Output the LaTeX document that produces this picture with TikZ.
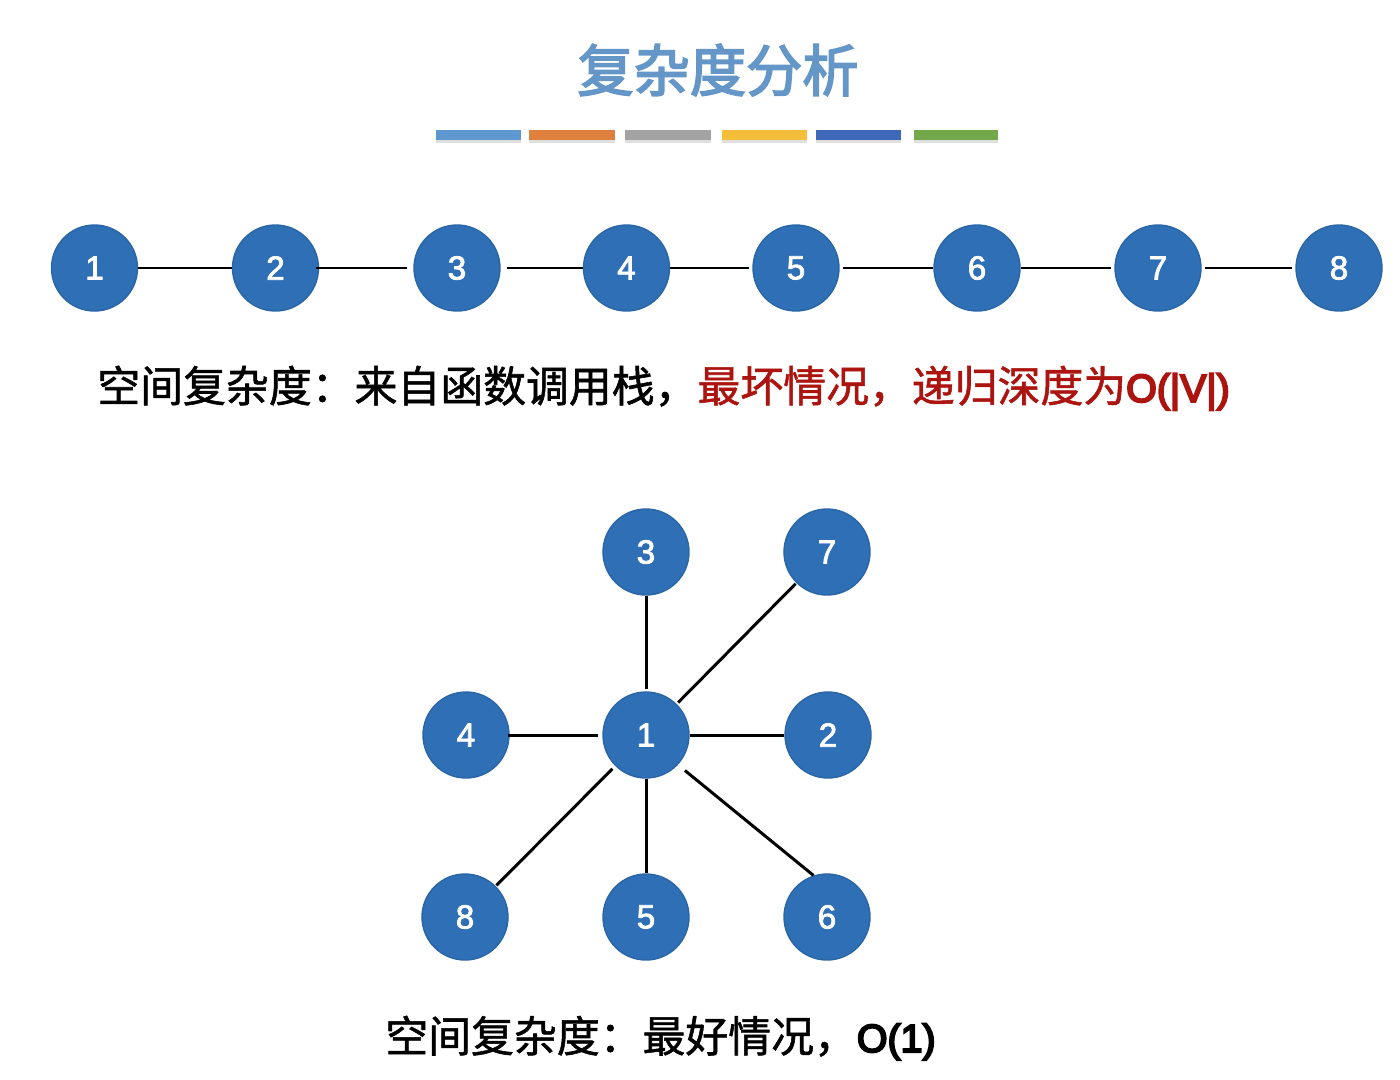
\documentclass[tikz,border=0pt]{standalone}
\usepackage{fontspec}
\setmainfont{Liberation Sans}[FakeBold=2.2]
\newfontfamily\cjk{Noto Sans CJK SC}[FakeBold=1.3]
\newfontfamily\cjktitle{Noto Sans CJK SC}[FakeBold=3]
\newfontfamily\latinheavy{Liberation Sans}[FakeBold=5]
\usetikzlibrary{shadows}
\definecolor{vtxblue}{HTML}{2F6FB5}
\definecolor{vtxedge}{HTML}{2A66A6}
\definecolor{titleblue}{HTML}{6596C8}
\definecolor{wordred}{HTML}{AC1410}
\definecolor{barblue}{HTML}{5F97D0}
\definecolor{barorange}{HTML}{E0803F}
\definecolor{bargray}{HTML}{A3A3A3}
\definecolor{baryellow}{HTML}{F5BE3A}
\definecolor{bardeep}{HTML}{4068B8}
\definecolor{bargreen}{HTML}{73A94A}
\tikzset{
  vtx/.style={circle,fill=vtxblue,draw=vtxedge,thick,text=white,minimum size=1.72cm,inner sep=0pt,font=\fontsize{19}{19}\selectfont},
  caption/.style={anchor=west,inner sep=0pt,font=\fontsize{24.4}{28}\selectfont\cjk},
  bar/.style={minimum width=#1,minimum height=0.2cm,inner sep=0pt,drop shadow={shadow xshift=0pt,shadow yshift=-0.05cm,opacity=0.25}}
}
\newcommand{\bigofont}{\fontsize{22.4}{28}\selectfont\latinheavy}
\begin{document}
\begin{tikzpicture}[x=0.02cm,y=-0.02cm]
      \useasboundingbox (0,0) rectangle (1400,1079);

      \node (title) at (718,70) {\fontsize{32}{36}\selectfont\cjktitle\textcolor{titleblue}{复杂度分析}};

      % colour bars under the title
      \node[bar=1.7cm,fill=barblue] (b1) at (478.5,135) {};
      \node[bar=1.72cm,fill=barorange] (b2) at (572,135) {};
      \node[bar=1.72cm,fill=bargray] (b3) at (668,135) {};
      \node[bar=1.7cm,fill=baryellow] (b4) at (764.5,135) {};
      \node[bar=1.7cm,fill=bardeep] (b5) at (858.5,135) {};
      \node[bar=1.68cm,fill=bargreen] (b6) at (956,135) {};

      \begin{scope}[every node/.style={vtx}]
        \node (s1) at (94.5,268) {1};
        \node (s2) at (275.5,268) {2};
        \node (s3) at (457,268) {3};
        \node (s4) at (626.5,268) {4};
        \node (s5) at (796,268) {5};
        \node (s6) at (977,268) {6};
        \node (s7) at (1158,268) {7};
        \node (s8) at (1339,268) {8};

        \node (t1) at (646,735) {1};
        \node (t2) at (828,735) {2};
        \node (t3) at (646,552) {3};
        \node (t4) at (466,735) {4};
        \node (t5) at (646,917) {5};
        \node (t6) at (827,917) {6};
        \node (t7) at (827,552) {7};
        \node (t8) at (465,917) {8};
      \end{scope}

      \begin{scope}[every edge/.style={draw=black,line width=1.7pt}]
        \path (s1) edge (s2);
        \path (s2) edge[shorten >=0.12cm,shorten <=-0.06cm] (s3);
        \path (s3) edge[shorten <=0.12cm] (s4);
        \path (s4) edge[shorten >=0.06cm] (s5);
        \path (s5) edge[shorten <=0.06cm] (s6);
        \path (s6) edge[shorten >=0.06cm] (s7);
        \path (s7) edge[shorten >=0.06cm,shorten <=0.06cm] (s8);

        \path (t1) edge[shorten <=0.04cm] (t3);
        \path (t1) edge[shorten <=0.04cm,shorten >=0.02cm] (t7);
        \path (t1) edge (t2);
        \path (t1) edge[shorten <=0.08cm,shorten >=-0.04cm] (t4);
        \path (t1) edge[shorten <=0.08cm,shorten >=0.02cm] (t8);
        \path (t1) edge (t5);
        \path (t1.-43) edge[shorten <=0.18cm] (t6.108);
      \end{scope}

      \node[caption] (cap1) at (97,388) {空间复杂度：来自函数调用栈，\textcolor{wordred}{最坏情况，递归深度为{\bigofont O(|V|)}}};
      \node[caption] (cap2) at (385,1038) {空间复杂度：最好情况，{\bigofont O(1)}};
\end{tikzpicture}
\end{document}
